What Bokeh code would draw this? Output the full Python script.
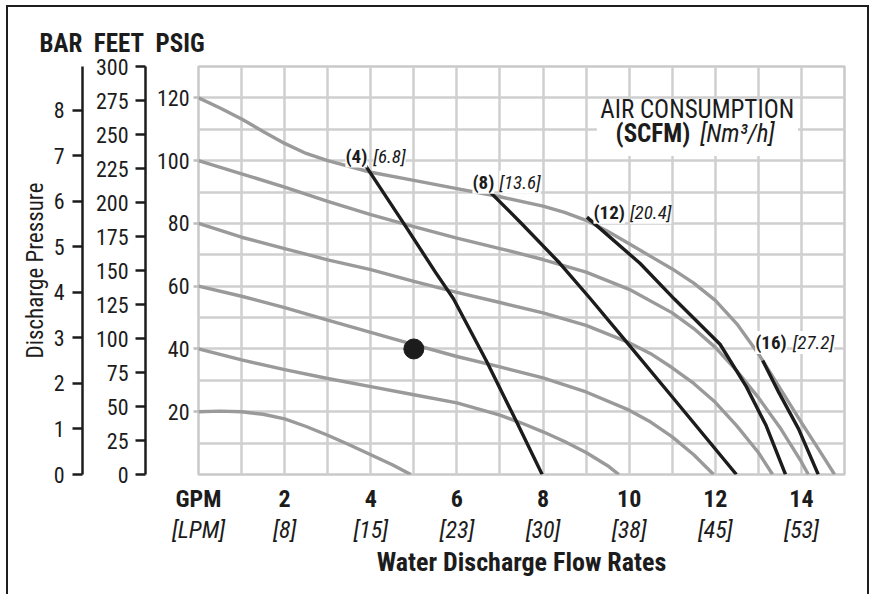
from bokeh.plotting import figure
from bokeh.models import Range1d, LinearAxis, FixedTicker, Label, BoxAnnotation, ColumnDataSource, Title
from bokeh.core.properties import value
from bokeh.embed import file_html
from bokeh.resources import INLINE

FONT = "Roboto Condensed"

# ---------------- data ----------------
gpm_ticks = [0, 2, 4, 6, 8, 10, 12, 14]
gpm_labels = ["GPM", "2", "4", "6", "8", "10", "12", "14"]
lpm_labels = ["[LPM]", "[8]", "[15]", "[23]", "[30]", "[38]", "[45]", "[53]"]
psig_ticks = [20, 40, 60, 80, 100, 120]
feet_ticks = [0, 25, 50, 75, 100, 125, 150, 175, 200, 225, 250, 275, 300]
bar_ticks = [0, 1, 2, 3, 4, 5, 6, 7, 8]

# discharge pressure curves (gray), one per air inlet pressure
p120_gpm = [0, 0.5, 1, 1.5, 2, 2.5, 3, 4, 5, 6, 7, 8, 8.5, 9, 9.5, 10, 10.5, 11, 11.5, 12, 12.5, 13, 13.5, 14, 14.4, 14.77]
p120_psig = [120, 116.8, 113.3, 109.3, 105.5, 102.3, 100, 96.3, 93.7, 91.1, 88.5, 85.5, 83.5, 81, 77.5, 73.5, 69.5, 65.5, 61, 55.5, 48, 38.5, 27.5, 16.5, 8, 0]
p100_gpm = [0, 1, 2, 3, 4, 5, 6, 7, 8, 9, 10, 11, 11.5, 12, 12.5, 13, 13.5, 14, 14.16]
p100_psig = [100, 95.8, 91.6, 87, 82.8, 79, 75.3, 72, 68.5, 64.5, 59, 51.5, 46.5, 40.5, 33, 24.5, 15, 4, 0]
p80_gpm = [0, 1, 2, 3, 4, 5, 6, 7, 8, 9, 10, 10.5, 11, 11.5, 12, 12.5, 13, 13.33]
p80_psig = [80, 75.6, 72, 68.4, 65.3, 61.5, 58, 54.8, 51.5, 47.5, 42, 38.5, 34, 29, 23, 15.5, 7, 0]
p60_gpm = [0, 1, 2, 3, 4, 5, 6, 7, 8, 9, 10, 10.5, 11, 11.5, 11.96]
p60_psig = [60, 56.8, 53.2, 49.2, 45.3, 41.4, 37.6, 34.3, 30.8, 26.3, 20.5, 16.7, 12, 6.3, 0]
p40_gpm = [0, 1, 2, 3, 4, 5, 6, 7, 7.5, 8, 8.5, 9, 9.5, 9.76]
p40_psig = [40, 36.5, 33.4, 30.6, 28, 25.4, 22.8, 18.9, 16.4, 13.6, 10.5, 7, 2.8, 0]
p20_gpm = [0, 0.5, 1, 1.5, 2, 2.5, 3, 3.5, 4, 4.5, 4.93]
p20_psig = [20, 20.2, 20, 19.2, 17.7, 15.3, 12.5, 9.5, 6.3, 3.1, 0]

# air consumption lines (black), SCFM
scfm4_gpm = [3.78, 4.78, 5.5, 5.92, 6.68, 7.36, 7.98]
scfm4_psig = [100.5, 79.7, 64.5, 56, 36.3, 17.5, 0]
scfm8_gpm = [6.66, 7.5, 8.39, 9.1, 9.83, 11.05, 12.49]
scfm8_psig = [91.5, 80, 67.3, 56, 44, 23.9, 0]
scfm12_gpm = [9.02, 10.25, 11.05, 12.11, 12.72, 13.18, 13.63]
scfm12_psig = [82, 67.3, 55.9, 41.5, 28, 15.6, 0]
scfm16_gpm = [13.1, 13.48, 13.93, 14.39]
scfm16_psig = [36.3, 26, 14.6, 0]

scfm_labels = ["(4)", "(8)", "(12)", "(16)"]
nm3h_labels = ["[6.8]", "[13.6]", "[20.4]", "[27.2]"]

duty_gpm = [5.0]
duty_psig = [40.0]

# ---------------- figure ----------------
DARK = "#1c1c1c"
frame_css = ("linear-gradient(#1e1e1e,#1e1e1e) 6px 5px / 2px 100% no-repeat, "
             "linear-gradient(#1e1e1e,#1e1e1e) 6px 5px / calc(100% - 11px) 2px no-repeat, "
             "linear-gradient(#1e1e1e,#1e1e1e) right 5px top 5px / 2px 100% no-repeat, white")

p = figure(width=874, height=594, x_range=Range1d(0, 15), y_range=Range1d(0, 130),
           output_backend="svg", toolbar_location=None,
           min_border_left=198, min_border_right=30, min_border_top=66, min_border_bottom=120,
           styles={"background": frame_css})
p.background_fill_color = "white"
p.border_fill_color = None
p.outline_line_color = "#c9c9c9"
p.outline_line_width = 2.5

p.xgrid.ticker = FixedTicker(ticks=list(range(0, 16)))
p.ygrid.ticker = FixedTicker(ticks=list(range(0, 131, 10)))
for g in (p.xgrid, p.ygrid):
    g.grid_line_color = "#cfcfcf"
    g.grid_line_width = 2.5

# PSIG axis (next to frame)
ya = p.yaxis[0]
ya.ticker = FixedTicker(ticks=psig_ticks)
ya.axis_line_color = None
ya.major_tick_out = 5
ya.major_tick_in = 0
ya.major_tick_line_color = "#bdbdbd"
ya.major_tick_line_width = 2.5
ya.minor_tick_line_color = None
ya.major_label_standoff = 4
ya.major_label_text_font = FONT
ya.major_label_text_font_size = "22px"
ya.major_label_text_color = DARK
ya.axis_label = "\u00a0"
ya.axis_label_text_font = FONT
ya.axis_label_text_font_size = "7px"
ya.axis_label_standoff = -3

p.extra_y_ranges = {"feet": Range1d(0, 300), "bar": Range1d(0, 130 / 14.5038)}

feet_axis = LinearAxis(y_range_name="feet", ticker=FixedTicker(ticks=feet_ticks))
bar_axis = LinearAxis(y_range_name="bar", ticker=FixedTicker(ticks=bar_ticks))
for ax in (feet_axis, bar_axis):
    ax.axis_line_color = DARK
    ax.axis_line_width = 2.5
    ax.major_tick_out = 10
    ax.major_tick_in = 0
    ax.major_tick_line_color = DARK
    ax.major_tick_line_width = 2.5
    ax.minor_tick_line_color = None
    ax.major_label_text_font = FONT
    ax.major_label_text_font_size = "22px"
    ax.major_label_text_color = DARK
feet_axis.major_label_standoff = 7
feet_axis.axis_label = "\u00a0"
feet_axis.axis_label_text_font = FONT
feet_axis.axis_label_text_font_size = "7px"
feet_axis.axis_label_standoff = -1
bar_axis.major_label_standoff = 8
bar_axis.axis_label = "Discharge Pressure"
bar_axis.axis_label_text_font = FONT
bar_axis.axis_label_text_font_size = "23px"
bar_axis.axis_label_text_font_style = "normal"
bar_axis.axis_label_text_color = DARK
bar_axis.axis_label_standoff = 2
p.add_layout(feet_axis, "left")
p.add_layout(bar_axis, "left")

# x axes: GPM row and LPM row
xa = p.xaxis[0]
xa.ticker = FixedTicker(ticks=gpm_ticks)
xa.major_label_overrides = dict(zip(gpm_ticks, gpm_labels))
lpm_axis = LinearAxis(ticker=FixedTicker(ticks=gpm_ticks),
                      major_label_overrides=dict(zip(gpm_ticks, lpm_labels)))
p.add_layout(lpm_axis, "below")
for ax in (xa, lpm_axis):
    ax.axis_line_color = None
    ax.major_tick_line_color = None
    ax.minor_tick_line_color = None
    ax.major_tick_out = 0
    ax.major_tick_in = 0
    ax.major_label_text_font = FONT
    ax.major_label_text_font_size = "24px"
    ax.major_label_text_color = DARK
xa.major_label_text_font_style = "bold"
xa.major_label_standoff = 10
lpm_axis.major_label_text_font_style = "italic"
lpm_axis.major_label_standoff = 0
lpm_axis.axis_label = "Water Discharge Flow Rates"
lpm_axis.axis_label_text_font = FONT
lpm_axis.axis_label_text_font_size = "26px"
lpm_axis.axis_label_text_font_style = "bold"
lpm_axis.axis_label_text_color = DARK
lpm_axis.axis_label_standoff = 0

# scale headers above the three pressure axes
p.add_layout(Title(text="BAR\u00a0\u00a0FEET\u00a0\u00a0PSIG", align="left", offset=-159, standoff=17,
                   text_font=FONT, text_font_size="25px", text_font_style="bold", text_color=DARK), "above")

# gray performance curves
GRAY = "#9a9a9a"
for xs, ys in [(p120_gpm, p120_psig), (p100_gpm, p100_psig), (p80_gpm, p80_psig),
               (p60_gpm, p60_psig), (p40_gpm, p40_psig), (p20_gpm, p20_psig)]:
    p.line(xs, ys, line_color=GRAY, line_width=3.4, line_join="round")

# black air consumption lines
black_sets = [(scfm4_gpm, scfm4_psig), (scfm8_gpm, scfm8_psig),
              (scfm12_gpm, scfm12_psig), (scfm16_gpm, scfm16_psig)]
for xs, ys in black_sets:
    p.line(xs, ys, line_color=DARK, line_width=3.4, line_join="round")

p.scatter(duty_gpm, duty_psig, size=20, color=DARK)

# labels for air consumption lines, anchored at each line's start
lab = ColumnDataSource(dict(
    x=[s[0][0] for s in black_sets], y=[s[1][0] for s in black_sets],
    scfm=scfm_labels, nm3h=nm3h_labels,
    bx=[6, 9, 38, 24], ix=[12, 14, 43, 30], dy=[-3, -5, -5, -18]))
p.text(x="x", y="y", text="scfm", x_offset="bx", y_offset="dy", source=lab,
       text_align="right", text_baseline="alphabetic", text_font=value(FONT),
       text_font_style="bold", text_font_size="19px", text_color=DARK,
       background_fill_color="white")
p.text(x="x", y="y", text="nm3h", x_offset="ix", y_offset="dy", source=lab,
       text_align="left", text_baseline="alphabetic", text_font=value(FONT),
       text_font_style="italic", text_font_size="19px", text_color=DARK,
       background_fill_color="white")

# AIR CONSUMPTION legend box
p.add_layout(BoxAnnotation(left=9.25, right=13.92, bottom=101.5, top=119,
                           fill_color="white", fill_alpha=1, line_color=None))
p.add_layout(Label(x=11.58, y=111.7, text="AIR CONSUMPTION", text_align="center",
                   text_font=FONT, text_font_size="25px", text_color=DARK))
p.add_layout(Label(x=11.42, y=103.9, text="(SCFM)", text_align="right",
                   text_font=FONT, text_font_size="25px", text_font_style="bold", text_color=DARK))
p.add_layout(Label(x=11.65, y=103.9, text="[Nm\u00b3/h]", text_align="left",
                   text_font=FONT, text_font_size="25px", text_font_style="italic", text_color=DARK))

open("out.html", "w").write(file_html(p, INLINE))
